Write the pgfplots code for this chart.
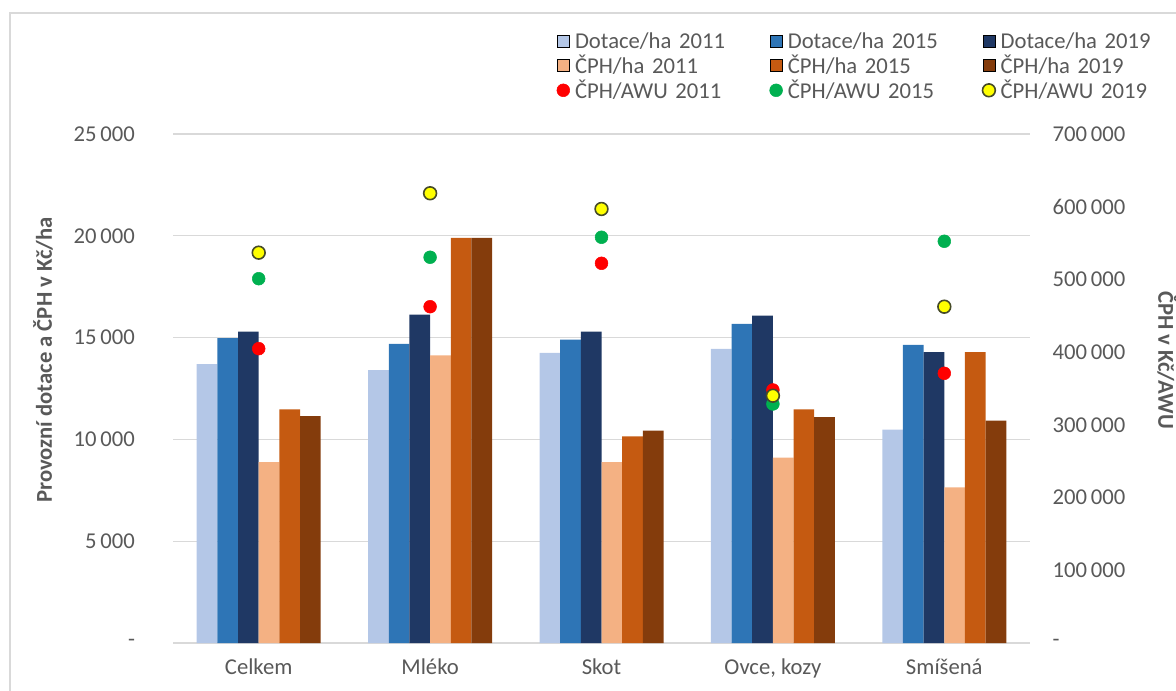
\documentclass[border=0pt]{standalone}
\usepackage{fontspec}
\setmainfont{Carlito}
\usepackage{pgfplots}
\pgfplotsset{compat=1.18}

\definecolor{dot11}{RGB}{180,199,231}
\definecolor{dot15}{RGB}{46,117,182}
\definecolor{dot19}{RGB}{31,56,100}
\definecolor{cph11}{RGB}{244,177,131}
\definecolor{cph15}{RGB}{197,90,17}
\definecolor{cph19}{RGB}{132,60,12}
\definecolor{awu11}{RGB}{255,0,0}
\definecolor{awu15}{RGB}{0,176,80}
\definecolor{awu19}{RGB}{255,255,0}
\definecolor{awu19edge}{RGB}{70,75,40}
\definecolor{txtgray}{RGB}{89,89,89}
\definecolor{gridgray}{RGB}{217,217,217}

\newcommand{\chartfont}{\fontsize{17}{20}\selectfont}

\pgfplotsset{
  common/.style={
    at={(129.75pt,-482.25pt)}, anchor=south west,
    scale only axis, width=642.75pt, height=381.75pt,
    xmin=-0.5, xmax=4.5,
    major tick length=0pt,
    tick style={draw=none},
    tick label style={color=txtgray, font=\chartfont},
    scaled y ticks=false,
  },
  sq/.style={legend image code/.code={\fill[##1] (0pt,-4.6pt) rectangle (9.2pt,4.6pt);}},
  dotleg/.style={legend image code/.code={\draw[##1] plot coordinates {(4.6pt,0pt)};}},
}

\begin{document}
\begin{tikzpicture}[font=\chartfont]
\useasboundingbox (0,0) rectangle (882pt,-518.25pt);
\draw[gridgray, line width=1.2pt] (7.5pt,-520pt) -- (7.5pt,-9.75pt) -- (884pt,-9.75pt);

% bars, left axis
\begin{axis}[common,
  ybar=0pt, bar width=15.5pt,
  ymin=0, ymax=25000,
  xtick={0,1,2,3,4},
  xticklabels={Celkem,Mléko,Skot,{Ovce, kozy},Smíšená},
  xticklabel style={yshift=-8.5pt},
  ytick={0,5000,10000,15000,20000,25000},
  yticklabels={-,5\,000,10\,000,15\,000,20\,000,25\,000},
  yticklabel style={xshift=-25pt},
  ymajorgrids, grid style={gridgray, line width=1pt},
  axis x line*=bottom, axis y line*=left,
  x axis line style={gridgray, line width=1pt, -},
  y axis line style={draw=none},
  ylabel={Provozní dotace a ČPH v Kč/ha},
  ylabel style={at={(rel axis cs:-0.1517,0.556)}, anchor=center, font=\chartfont\bfseries, color=txtgray},
]
\addplot[fill=dot11, draw=none] coordinates {(0,13700) (1,13400) (2,14250) (3,14450) (4,10480)};
\addplot[fill=dot15, draw=none] coordinates {(0,14970) (1,14690) (2,14900) (3,15680) (4,14640)};
\addplot[fill=dot19, draw=none] coordinates {(0,15290) (1,16130) (2,15290) (3,16080) (4,14290)};
\addplot[fill=cph11, draw=none] coordinates {(0,8880) (1,14130) (2,8880) (3,9100) (4,7650)};
\addplot[fill=cph15, draw=none] coordinates {(0,11480) (1,19900) (2,10150) (3,11480) (4,14290)};
\addplot[fill=cph19, draw=none] coordinates {(0,11140) (1,19900) (2,10430) (3,11090) (4,10920)};
\end{axis}

% points, right axis
\begin{axis}[common,
  ymin=0, ymax=700000,
  axis x line=none, axis y line*=right,
  y axis line style={draw=none},
  ytick={0,100000,200000,300000,400000,500000,600000,700000},
  yticklabels={-,100\,000,200\,000,300\,000,400\,000,500\,000,600\,000,700\,000},
  yticklabel style={xshift=13.5pt},
  ylabel={ČPH v Kč/AWU},
  ylabel style={at={(rel axis cs:1.160,0.556)}, anchor=center, rotate=180, font=\chartfont\bfseries, color=txtgray},
  clip=false,
  legend columns=3,
  legend cell align=left,
  legend style={at={(rel axis cs:0.443,1.208)}, anchor=north west,
    draw=none, fill=none, text=txtgray, font=\chartfont, nodes={inner sep=1pt},
    row sep=1.5pt,
    /tikz/every odd column/.append style={column sep=3pt},
    /tikz/every even column/.append style={text width=145pt, align=left}},
]
\addlegendimage{sq, fill=dot11}
\addlegendimage{sq, fill=dot15}
\addlegendimage{sq, fill=dot19}
\addlegendimage{sq, fill=cph11}
\addlegendimage{sq, fill=cph15}
\addlegendimage{sq, fill=cph19}
\addplot[only marks, mark=*, mark size=4.8pt, mark options={fill=awu11, draw=awu11}, dotleg]
  coordinates {(0,404800) (1,462500) (2,522200) (3,348000) (4,370900)};
\addplot[only marks, mark=*, mark size=4.8pt, mark options={fill=awu15, draw=awu15}, dotleg]
  coordinates {(0,501000) (1,530500) (2,558000) (3,328700) (4,552500)};
\addplot[only marks, mark=*, mark size=4.8pt, mark options={fill=awu19, draw=awu19edge, line width=1.2pt}, dotleg]
  coordinates {(0,536800) (1,618500) (2,596900) (3,340100) (4,462500)};
\legend{Dotace/ha 2011,Dotace/ha 2015,Dotace/ha 2019,ČPH/ha 2011,ČPH/ha 2015,ČPH/ha 2019,ČPH/AWU 2011,ČPH/AWU 2015,ČPH/AWU 2019}
\end{axis}
\end{tikzpicture}
\end{document}
